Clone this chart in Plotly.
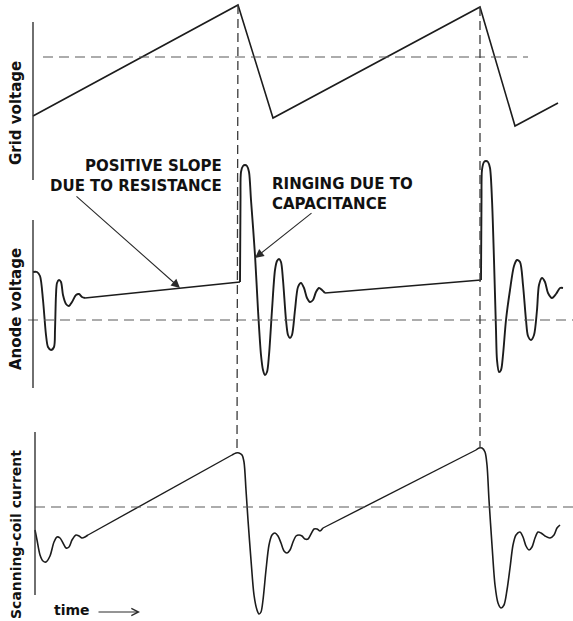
import plotly.graph_objects as go

W, H = 573, 621

# ---- waveforms (time and amplitude in arbitrary units; 0 = dashed reference level) ----
grid_t = [0, 205, 240, 447, 482, 525]
grid_v = [-59, 52, -61, 50, -69, -46]

anode_t = [0, 4, 7, 10, 13, 15, 18, 21, 22, 23, 24, 26, 28, 30, 33, 36, 39, 43, 46, 49, 52,
           207, 207.5, 208, 210, 212, 214, 216, 218, 222, 225, 228, 230, 232, 234, 236, 239,
           242, 244, 246, 248, 250, 253, 255, 257, 259, 262, 265, 268, 271, 274, 277, 280,
           283, 286, 289, 292,
           448, 448.5, 449, 451, 453, 455, 457, 459, 461, 463, 464, 466, 468, 470, 473, 477,
           481, 484, 487, 490, 493, 495, 498, 501, 504, 506, 509, 512, 515, 519, 523, 527, 530]
anode_v = [48, 48, 44, 20, -15, -27, -30, -27, -10, 25, 37, 40, 38, 25, 16, 14, 18, 25, 26, 23, 22,
           38, 120, 148, 154, 155, 154, 148, 120, 65, 10, -35, -50, -55, -52, -35, 10,
           50, 59, 61, 58, 40, 0, -15, -18, -15, 10, 33, 37, 32, 22, 18, 20,
           28, 32, 30, 27,
           40, 120, 150, 158, 159, 158, 152, 120, 60, -10, -40, -52, -50, -35, 0, 30,
           54, 60, 58, 35, 0, -16, -20, -15, 10, 35, 42, 38, 27, 22, 26, 32, 32]

coil_t = [2, 4, 7, 10, 13, 17, 21, 24, 27, 30, 33, 36, 39, 43, 46, 49, 52, 55,
          199, 203, 206, 209, 211, 213, 215, 218, 221, 224, 226, 228, 230, 233, 236, 239,
          242, 245, 248, 251, 254, 257, 260, 263, 266, 269, 272, 275, 278, 281, 284, 287, 290,
          443, 446, 449, 452, 454, 456, 459, 462, 465, 468, 471, 474, 477, 480, 483, 487,
          490, 493, 496, 499, 502, 505, 508, 512, 517, 521, 524, 527]
coil_v = [-23, -33, -48, -54, -55, -49, -35, -30, -31, -36, -41, -40, -33, -28, -29, -31, -30, -28,
          52, 54, 54, 52, 45, 17, -13, -53, -88, -103, -107, -105, -93, -63, -38, -28,
          -26, -29, -36, -44, -46, -43, -35, -29, -28, -29, -32, -32, -27, -22, -22, -24, -21,
          57, 59, 59, 55, 42, 7, -38, -78, -96, -101, -98, -83, -61, -38, -28, -25,
          -30, -39, -43, -40, -31, -25, -26, -29, -31, -28, -21, -18]

# ---- panel geometry (paper fractions) and value ranges ----
GRID_DOM, GRID_RNG = [1 - 200 / H, 1.0], [-143, 57]
ANODE_DOM, ANODE_RNG = [1 - 400 / H, 1 - 150 / H], [-80, 170]
COIL_DOM, COIL_RNG = [0.0, 1 - 420 / H], [-114, 87]
T_RNG = [-33, 540]

INK = "#1c1c1c"
DASH_COL = "#5a5a5a"
FONT = "DejaVu Sans"


def to_paper(v, dom, rng):
    return dom[0] + (v - rng[0]) / (rng[1] - rng[0]) * (dom[1] - dom[0])


def add_wave(fig, t, v, xa, ya, width=1.8):
    """Smooth ringing runs as splines; the long linear ramps as straight segments."""
    run_t, run_v = [t[0]], [v[0]]
    for i in range(1, len(t)):
        if t[i] - t[i - 1] > 40:
            fig.add_trace(go.Scatter(x=run_t, y=run_v, mode="lines", xaxis=xa, yaxis=ya,
                                     line=dict(color=INK, width=width, shape="spline", smoothing=0.8),
                                     hoverinfo="skip", showlegend=False))
            fig.add_trace(go.Scatter(x=[t[i - 1], t[i]], y=[v[i - 1], v[i]], mode="lines",
                                     xaxis=xa, yaxis=ya, line=dict(color=INK, width=width - 0.2),
                                     hoverinfo="skip", showlegend=False))
            run_t, run_v = [t[i]], [v[i]]
        else:
            run_t.append(t[i])
            run_v.append(v[i])
    fig.add_trace(go.Scatter(x=run_t, y=run_v, mode="lines", xaxis=xa, yaxis=ya,
                             line=dict(color=INK, width=width, shape="spline", smoothing=0.8),
                             hoverinfo="skip", showlegend=False))


fig = go.Figure()

fig.add_trace(go.Scatter(x=grid_t, y=grid_v, mode="lines", xaxis="x", yaxis="y",
                         line=dict(color=INK, width=1.6), hoverinfo="skip", showlegend=False))
add_wave(fig, anode_t, anode_v, "x2", "y2", width=1.9)
add_wave(fig, coil_t, coil_v, "x3", "y3", width=1.6)

shapes = []
# zero-reference dashed lines
for xr, yr, x0 in (("x", "y", 10), ("x2", "y2", -5), ("x3", "y3", 2)):
    x1 = 495 if yr == "y" else T_RNG[1]
    shapes.append(dict(type="line", xref=xr, yref=yr, x0=x0, x1=x1, y0=0, y1=0,
                       line=dict(color=DASH_COL, width=1.2, dash="10px,6px")))
# vertical amplitude axes
for xr, yr, x0, y0, y1 in (("x", "y", 0, 35, -123), ("x2", "y2", 0, 100, -68),
                           ("x3", "y3", 2, 75, -88)):
    shapes.append(dict(type="line", xref=xr, yref=yr, x0=x0, x1=x0, y0=y0, y1=y1,
                       line=dict(color="#333333", width=1.4)))
# flyback markers: grid-voltage peak down to scanning-coil current peak
for tg, vg, tc, vc in ((grid_t[1], grid_v[1], coil_t[19], coil_v[19]),
                       (grid_t[3], grid_v[3], coil_t[52], coil_v[52])):
    shapes.append(dict(type="line", xref="x", yref="paper", x0=tg, x1=tc + 1,
                       y0=to_paper(vg, GRID_DOM, GRID_RNG), y1=to_paper(vc, COIL_DOM, COIL_RNG),
                       line=dict(color="#3a3a3a", width=1.3, dash="9px,5px")))

CAPS = dict(family=FONT, size=15, color="#111111", weight="bold")
LABEL = dict(family=FONT, size=15, color="#111111", weight="bold")

annotations = [
    dict(text="POSITIVE SLOPE<br>DUE TO RESISTANCE", xref="x2", yref="y2", x=191, y=144,
         xanchor="right", yanchor="middle", align="right", showarrow=False, font=CAPS),
    dict(text="RINGING DUE TO<br>CAPACITANCE", xref="x2", yref="y2", x=237, y=126,
         xanchor="left", yanchor="middle", align="left", showarrow=False, font=CAPS),
    dict(text="", xref="x2", yref="y2", axref="x2", ayref="y2", x=147, y=32, ax=42, ay=125,
         showarrow=True, arrowhead=2, arrowsize=1.6, arrowwidth=1.1, arrowcolor="#2a2a2a"),
    dict(text="", xref="x2", yref="y2", axref="x2", ayref="y2", x=222, y=62, ax=280, ay=108,
         showarrow=True, arrowhead=2, arrowsize=1.6, arrowwidth=1.1, arrowcolor="#2a2a2a"),
    dict(text="Grid voltage", xref="paper", yref="paper", x=16 / W, y=1 - 113 / H,
         textangle=-90, showarrow=False, xanchor="center", yanchor="middle", font=LABEL),
    dict(text="Anode voltage", xref="paper", yref="paper", x=16 / W, y=1 - 309 / H,
         textangle=-90, showarrow=False, xanchor="center", yanchor="middle", font=LABEL),
    dict(text="Scanning-coil current", xref="paper", yref="paper", x=16 / W, y=1 - 535 / H,
         textangle=-90, showarrow=False, xanchor="center", yanchor="middle",
         font=dict(LABEL, size=14)),
    dict(text="time", xref="paper", yref="paper", x=72 / W, y=1 - 610 / H,
         showarrow=False, xanchor="center", yanchor="middle", font=dict(LABEL, size=14)),
    dict(text="", xref="paper", yref="paper", axref="pixel", ayref="pixel",
         x=140 / W, y=1 - 612 / H, ax=-43, ay=0,
         showarrow=True, arrowhead=5, arrowsize=1.4, arrowwidth=1, arrowcolor="#2a2a2a"),
]

hidden = dict(visible=False, showgrid=False, zeroline=False, fixedrange=True)
fig.update_layout(
    width=W, height=H, margin=dict(l=0, r=0, t=0, b=0),
    paper_bgcolor="white", plot_bgcolor="rgba(0,0,0,0)",
    xaxis=dict(domain=[0, 1], range=T_RNG, anchor="y", **hidden),
    xaxis2=dict(domain=[0, 1], range=T_RNG, anchor="y2", **hidden),
    xaxis3=dict(domain=[0, 1], range=T_RNG, anchor="y3", **hidden),
    yaxis=dict(domain=GRID_DOM, range=GRID_RNG, anchor="x", **hidden),
    yaxis2=dict(domain=ANODE_DOM, range=ANODE_RNG, anchor="x2", **hidden),
    yaxis3=dict(domain=COIL_DOM, range=COIL_RNG, anchor="x3", **hidden),
    shapes=shapes, annotations=annotations, showlegend=False,
)

fig.write_html("out.html", config={"displayModeBar": False})
